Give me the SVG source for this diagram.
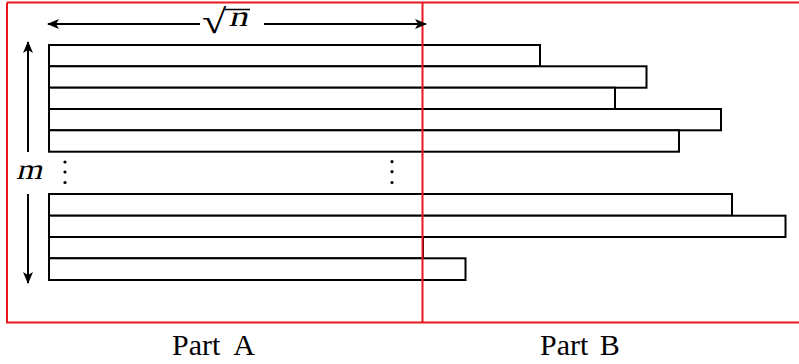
<svg xmlns="http://www.w3.org/2000/svg" width="799" height="364" viewBox="0 0 799 364">
<defs>
<marker id="ah" markerWidth="12" markerHeight="10" refX="11" refY="5" orient="auto" markerUnits="userSpaceOnUse">
<path d="M0,0 L12,5 L0,10 L3,5 Z" fill="#000"/>
</marker>
<style>
.bar{fill:#fff;stroke:#000;stroke-width:2}
.frame{fill:none;stroke:#e8191e;stroke-width:2}
.arr{stroke:#000;stroke-width:2;fill:none}
.lbl{font-family:"Liberation Serif",serif;font-size:30px;fill:#000}
.math{font-family:"Liberation Serif",serif;font-size:29px;fill:#000;text-anchor:middle}
.dot{fill:#000}
</style>
</defs>
<rect width="799" height="364" fill="#fff"/>
<g id="bars">
<rect class="bar" x="49" y="45" width="491" height="21.3"/>
<rect class="bar" x="49" y="66.3" width="597.5" height="21.4"/>
<rect class="bar" x="49" y="87.7" width="566" height="21.3"/>
<rect class="bar" x="49" y="109" width="672" height="21.3"/>
<rect class="bar" x="49" y="130.3" width="630" height="21.4"/>
<rect class="bar" x="49" y="194" width="683" height="21.7"/>
<rect class="bar" x="49" y="215.7" width="736.5" height="21.3"/>
<rect class="bar" x="49" y="237" width="374" height="21.3"/>
<rect class="bar" x="49" y="258.3" width="416.5" height="21.7"/>
</g>
<g id="dots">
<circle class="dot" cx="65" cy="162" r="1.6"/>
<circle class="dot" cx="65" cy="172" r="1.6"/>
<circle class="dot" cx="65" cy="182.5" r="1.6"/>
<circle class="dot" cx="392" cy="161.7" r="1.6"/>
<circle class="dot" cx="392" cy="171.7" r="1.6"/>
<circle class="dot" cx="392" cy="182.5" r="1.6"/>
</g>
<g id="frame">
<path class="frame" d="M7,2.5 H799 M7,2.5 V322.5 H799 M422.5,2.5 V322.5"/>
</g>
<g id="connectors">
<line class="arr" x1="200" y1="24" x2="48" y2="24" marker-end="url(#ah)"/>
<line class="arr" x1="264" y1="24" x2="426" y2="24" marker-end="url(#ah)"/>
<line class="arr" x1="28" y1="152" x2="28" y2="42" marker-end="url(#ah)"/>
<line class="arr" x1="28" y1="194" x2="28" y2="283" marker-end="url(#ah)"/>
</g>
<g id="sqrt-n">
<text transform="translate(202,33) scale(1.3,1)" x="0" y="0" style="font-family:'Liberation Serif',serif;font-size:34px">√</text>
<line x1="225" y1="9.5" x2="250" y2="9.5" stroke="#000" stroke-width="1.5"/>
<text class="math" transform="translate(238,26) skewX(-14)" x="0" y="0" textLength="19" lengthAdjust="spacingAndGlyphs">n</text>
</g>
<g id="m-label">
<text class="math" transform="translate(29,179) skewX(-14)" x="0" y="0" textLength="26" lengthAdjust="spacingAndGlyphs">m</text>
</g>
<g id="part-a">
<text class="lbl" x="172" y="354.5" word-spacing="7">Part A</text>
</g>
<g id="part-b">
<text class="lbl" x="540" y="354.5" word-spacing="4">Part B</text>
</g>
</svg>
